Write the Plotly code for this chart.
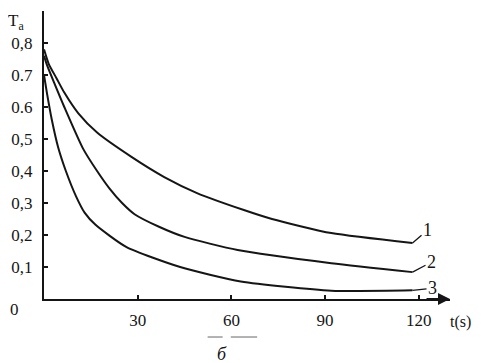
import plotly.graph_objects as go

# Curve data (time in s, T_a)
t1 = [0, 1.5, 4, 6.5, 11, 17, 28, 38.5, 49, 64, 73, 92, 118]
T1 = [0.78, 0.735, 0.69, 0.645, 0.58, 0.52, 0.444, 0.381, 0.331, 0.278, 0.25, 0.206, 0.175]
t2 = [0, 1, 3.5, 6.5, 12.5, 17, 21, 25, 29, 37, 45, 62, 92, 118]
T2 = [0.76, 0.73, 0.67, 0.60, 0.47, 0.40, 0.345, 0.30, 0.265, 0.225, 0.194, 0.153, 0.112, 0.084]
t3 = [0, 1, 2.5, 4.5, 7, 10.3, 13, 16.5, 26.3, 43.6, 63, 92, 118]
T3 = [0.70, 0.64, 0.56, 0.475, 0.40, 0.32, 0.27, 0.232, 0.163, 0.10, 0.055, 0.026, 0.027]
curve_labels = ["1", "2", "3"]

x_ticks = [30, 60, 90, 120]
y_ticks = [0.1, 0.2, 0.3, 0.4, 0.5, 0.6, 0.7, 0.8]
y_ticktext = ["0,1", "0,2", "0,3", "0,4", "0,5", "0.6", "0.7", "0,8"]

FONT = "Times New Roman, Liberation Serif, serif"
INK = "#151515"

fig = go.Figure()
for tx, ty in [(t1, T1), (t2, T2), (t3, T3)]:
    fig.add_trace(go.Scatter(x=tx, y=ty, mode="lines",
                             line=dict(color=INK, width=2, shape="spline", smoothing=0.6),
                             showlegend=False, hoverinfo="skip"))

# curve number labels with leader lines
offsets = [(15, -13), (19, -10), (20, -2)]
for (tx, ty), lab, (ax, ay) in zip([(t1, T1), (t2, T2), (t3, T3)], curve_labels, offsets):
    fig.add_annotation(x=tx[-1], y=ty[-1], text=lab, showarrow=True, arrowhead=0,
                       arrowwidth=1.3, arrowcolor=INK, ax=ax, ay=ay, standoff=0,
                       font=dict(family=FONT, size=18, color=INK))

# x-axis arrowhead
fig.add_annotation(x=130, y=0, ax=122, ay=0, xref="x", yref="y", axref="x", ayref="y",
                   showarrow=True, arrowhead=2, arrowsize=1.2, arrowwidth=2,
                   arrowcolor=INK, text="")

# origin "0"
fig.add_annotation(x=0, y=0, xref="x", yref="y", text="0", showarrow=False,
                   xanchor="center", yanchor="middle",
                   xshift=-30, yshift=-10, font=dict(family=FONT, size=17, color=INK))

# axis titles
fig.add_annotation(xref="paper", yref="paper", x=-0.069, y=1.008, text="T<sub>a</sub>",
                   showarrow=False, xanchor="center", yanchor="top",
                   font=dict(family=FONT, size=17, color=INK))
fig.add_annotation(xref="paper", yref="paper", x=1.025, y=-0.08, text="t(s)",
                   showarrow=False, xanchor="center", yanchor="middle",
                   font=dict(family=FONT, size=16, color=INK))
fig.add_annotation(xref="paper", yref="paper", x=0.438, y=-0.192, text="<i>б</i>",
                   showarrow=False, xanchor="center", yanchor="middle",
                   font=dict(family=FONT, size=18, color=INK))

# faint dashes above the panel letter
for x0, x1 in [(0.403, 0.44), (0.46, 0.525)]:
    fig.add_shape(type="line", xref="paper", yref="paper", x0=x0, x1=x1,
                  y0=-0.132, y1=-0.132, line=dict(color="#999", width=1.5))

fig.update_xaxes(range=[0, 130], showgrid=False, zeroline=False, automargin=False,
                 showline=True, linecolor=INK, linewidth=2,
                 tickvals=x_ticks, ticks="inside", ticklen=4, tickwidth=1.5,
                 tickcolor=INK, ticklabelstandoff=5,
                 tickfont=dict(family=FONT, size=17, color=INK))
fig.update_yaxes(range=[0, 0.9], showgrid=False, zeroline=False, automargin=False,
                 showline=True, linecolor=INK, linewidth=2,
                 tickvals=y_ticks, ticktext=y_ticktext, ticks="inside",
                 ticklen=4, tickwidth=1.5, tickcolor=INK, ticklabelstandoff=6,
                 tickfont=dict(family=FONT, size=17, color=INK))

# page body has an 8px margin, so the figure is 8px smaller each way
fig.update_layout(width=473, height=355, margin=dict(l=36, r=31, t=3, b=64),
                  plot_bgcolor="white", paper_bgcolor="white",
                  font=dict(family=FONT, color=INK))

fig.write_html("out.html")
